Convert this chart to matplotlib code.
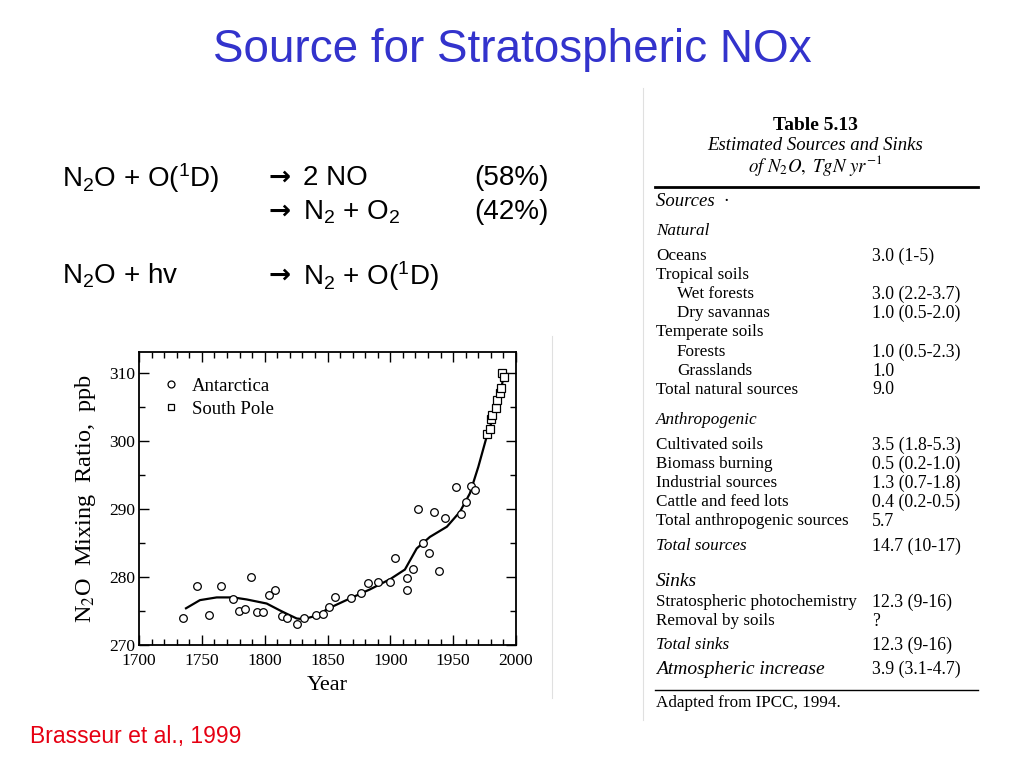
import numpy as np
import matplotlib.pyplot as plt
from matplotlib.lines import Line2D

# ice core / station data
ant_year = [1735, 1746, 1756, 1765.5, 1774.5, 1779.5, 1784.6, 1789.4, 1794, 1798.4,
            1803.4, 1808.2, 1813.5, 1818, 1825.5, 1831, 1841, 1846.6, 1851, 1856,
            1868.7, 1877, 1882.5, 1890, 1900, 1904, 1913, 1913.5, 1918, 1922,
            1926, 1930.5, 1935, 1938.5, 1943.7, 1952, 1956, 1960, 1964, 1967]
ant_ppb = [273.9, 278.7, 274.4, 278.7, 276.7, 275.0, 275.3, 280.0, 274.8, 274.8,
           277.4, 278.1, 274.3, 273.9, 273.1, 273.9, 274.4, 274.6, 275.6, 277.1,
           276.9, 277.6, 279.1, 279.3, 279.3, 282.8, 278.1, 279.8, 281.2, 290.0,
           285.0, 283.6, 289.6, 280.9, 288.7, 293.3, 289.3, 291.0, 293.4, 292.8]
sp_year = [1977, 1979, 1979.8, 1981.1, 1983.8, 1984.6, 1987.2, 1987.8, 1989.1, 1990.2]
sp_ppb = [301.1, 301.7, 303.2, 303.9, 304.9, 306.0, 307.0, 307.8, 310.0, 309.4]
fit_year = [1737.4, 1748.5, 1761.8, 1775, 1785.7, 1801.6, 1812, 1817.5, 1825.5, 1830.6,
            1841, 1851, 1865, 1884, 1900, 1911.6, 1921, 1931.5, 1945, 1955.4,
            1963.3, 1970, 1976.6, 1982, 1987.2, 1990]
fit_ppb = [275.4, 276.6, 277.0, 277.0, 276.7, 276.1, 275.1, 274.6, 273.9, 273.8,
           274.3, 275.4, 276.6, 278.2, 279.7, 281.1, 284.2, 285.9, 287.4, 289.6,
           292.3, 296.2, 300.6, 303.6, 306.5, 309.5]

# table 5.13
tab_labels = ["Oceans", "Tropical soils", "Wet forests", "Dry savannas", "Temperate soils",
              "Forests", "Grasslands", "Total natural sources",
              "Cultivated soils", "Biomass burning", "Industrial sources",
              "Cattle and feed lots", "Total anthropogenic sources", "Total sources",
              "Stratospheric photochemistry", "Removal by soils", "Total sinks",
              "Atmospheric increase"]
tab_values = ["3.0 (1-5)", "", "3.0 (2.2-3.7)", "1.0 (0.5-2.0)", "",
              "1.0 (0.5-2.3)", "1.0", "9.0",
              "3.5 (1.8-5.3)", "0.5 (0.2-1.0)", "1.3 (0.7-1.8)",
              "0.4 (0.2-0.5)", "5.7", "14.7 (10-17)",
              "12.3 (9-16)", "?", "12.3 (9-16)", "3.9 (3.1-4.7)"]
tab_y = [256, 275, 294, 313, 332, 352, 371, 390, 445, 464, 483, 502, 521, 546,
         602, 621, 645, 669]
tab_indent = [0, 0, 1, 1, 0, 1, 1, 0, 0, 0, 0, 0, 0, 0, 0, 0, 0, 0]
tab_italic = [0, 0, 0, 0, 0, 0, 0, 0, 0, 0, 0, 0, 0, 1, 0, 0, 1, 1]

W, H = 1024, 768


def px(x, y):
    return x / W, 1 - y / H


fig = plt.figure(figsize=(10.24, 7.68), dpi=100)
fig.patch.set_facecolor('white')

sans = 'Liberation Sans'
serif = 'Liberation Serif'
plt.rcParams['mathtext.fontset'] = 'custom'
plt.rcParams['mathtext.rm'] = sans
plt.rcParams['mathtext.it'] = sans + ':italic'

# title
fig.text(*px(512, 50), "Source for Stratospheric NOx", ha='center', va='center',
         fontsize=33, color='#3333cc', family=sans)

# reactions
eq_fs = 20
arrow_kw = dict(fontsize=19, family='DejaVu Sans', va='center', weight='bold')
fig.text(*px(62, 178), r"N$_2$O + O($^1$D)", fontsize=eq_fs, family=sans, va='center')
fig.text(*px(268, 178), "\u2192", **arrow_kw)
fig.text(*px(303, 178), "2 NO", fontsize=eq_fs, family=sans, va='center')
fig.text(*px(474, 178), "(58%)", fontsize=eq_fs, family=sans, va='center')
fig.text(*px(268, 212), "\u2192", **arrow_kw)
fig.text(*px(303, 212), r"N$_2$ + O$_2$", fontsize=eq_fs, family=sans, va='center')
fig.text(*px(474, 212), "(42%)", fontsize=eq_fs, family=sans, va='center')
fig.text(*px(62, 276), r"N$_2$O + hv", fontsize=eq_fs, family=sans, va='center')
fig.text(*px(268, 276), "\u2192", **arrow_kw)
fig.text(*px(303, 276), r"N$_2$ + O($^1$D)", fontsize=eq_fs, family=sans, va='center')

fig.text(*px(30, 737), "Brasseur et al., 1999", fontsize=16.5, color='#e60012',
         family=sans, va='center')

# faint image borders
for xl, y0, y1 in [(552, 336, 698), (643, 88, 720)]:
    fig.add_artist(Line2D([xl / W, xl / W], [1 - y0 / H, 1 - y1 / H], color='#e0e0e0', lw=0.8))

# chart
ax = fig.add_axes([139 / W, 1 - 645 / H, 377 / W, 293 / H])
ax.plot(fit_year, fit_ppb, color='black', lw=1.6)
ax.plot(ant_year, ant_ppb, 'o', mfc='white', mec='black', ms=5.5, mew=0.9)
ax.plot(sp_year, sp_ppb, 's', mfc='white', mec='black', ms=6, mew=0.9)
ax.set_xlim(1700, 2000)
ax.set_ylim(270, 313.1)
ax.set_xticks(np.arange(1700, 2001, 50))
ax.set_xticks(np.arange(1700, 2001, 10), minor=True)
ax.set_yticks(np.arange(270, 311, 10))
ax.set_yticks(np.arange(270, 311, 5), minor=True)
ax.tick_params(which='both', direction='in', top=True, right=True, labelsize=12.5)
ax.tick_params(which='major', length=7, width=1)
ax.tick_params(which='minor', length=4, width=1)
ax.tick_params(axis='x', pad=6)
ax.tick_params(axis='y', pad=3)
for lab in ax.get_xticklabels() + ax.get_yticklabels():
    lab.set_family(serif)
for s in ax.spines.values():
    s.set_linewidth(1.3)
ax.set_xlabel("Year", fontsize=16, family=serif, labelpad=5)
ax.set_ylabel(r"N$_2$O  Mixing  Ratio,  ppb", fontsize=17.5, family=serif,
              math_fontfamily='stix', labelpad=8)
handles = [Line2D([], [], ls='', marker='o', mfc='white', mec='black', ms=5, mew=0.9),
           Line2D([], [], ls='', marker='s', mfc='white', mec='black', ms=5, mew=0.9)]
ax.legend(handles, ["Antarctica", "South Pole"], loc='upper left', frameon=False,
          prop={'family': serif, 'size': 13.5}, handletextpad=0.6, labelspacing=0.3,
          bbox_to_anchor=(0.015, 0.97), handlelength=1.0)

# table
tfs = 12.3
vfs = 12.8
fig.text(*px(815, 126), "Table 5.13", ha='center', va='center', fontsize=14,
         weight='bold', family=serif)
fig.text(*px(815, 145), "Estimated Sources and Sinks", ha='center', va='center',
         fontsize=13.5, style='italic', family=serif)
fig.text(*px(815, 165), r"$\mathit{of\ N_2O,\ TgN\ yr^{-1}}$", ha='center', va='center',
         fontsize=13.5, family=serif, math_fontfamily='stix')
fig.add_artist(Line2D([655 / W, 978 / W], [1 - 187 / H] * 2, color='black', lw=2))
fig.add_artist(Line2D([655 / W, 978 / W], [1 - 690 / H] * 2, color='black', lw=1))
fig.text(*px(656, 202), "Sources  \u00b7", va='center', fontsize=13.5, style='italic', family=serif)
fig.text(*px(656, 231), "Natural", va='center', fontsize=tfs, style='italic', family=serif)
fig.text(*px(656, 420), "Anthropogenic", va='center', fontsize=tfs, style='italic', family=serif)
fig.text(*px(656, 582), "Sinks", va='center', fontsize=14, style='italic', family=serif)
for lab, val, yy, ind, it in zip(tab_labels, tab_values, tab_y, tab_indent, tab_italic):
    fs = 14 if lab == "Atmospheric increase" else tfs
    fig.text(*px(656 + 21 * ind, yy), lab, va='center', fontsize=fs,
             style='italic' if it else 'normal', family=serif)
    fig.text(*px(872, yy), val, va='center', fontsize=vfs, family=serif)
fig.text(*px(656, 703), "Adapted from IPCC, 1994.", va='center', fontsize=tfs, family=serif)

fig.savefig('out.png', dpi=100, facecolor='white')
